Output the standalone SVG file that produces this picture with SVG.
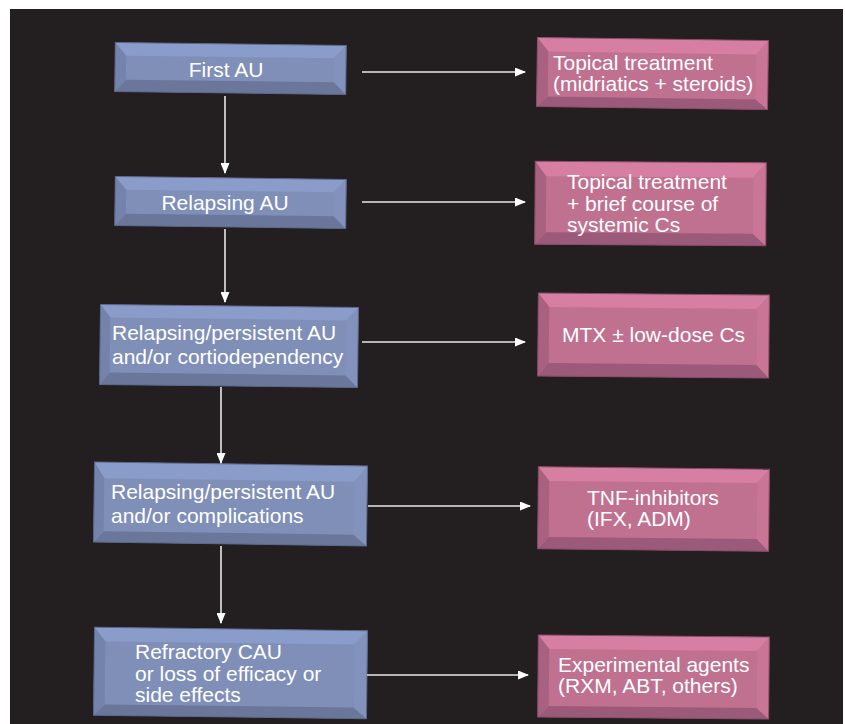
<svg xmlns="http://www.w3.org/2000/svg" width="845" height="724" viewBox="0 0 845 724">
<defs>
<style>
.bf{fill:#7f8fb7}.bt{fill:#8a9cca}.bb{fill:#6a779b}.bl{fill:#7483ab}.br{fill:#8292bd}.bo{fill:none;stroke:#5c678a;stroke-width:1}
.pf{fill:#c0718f}.pt{fill:#d67fa2}.pb{fill:#9b5a79}.pl{fill:#a8617f}.pr{fill:#c87596}.po{fill:none;stroke:#8a4c68;stroke-width:1}
.t{font-family:"Liberation Sans",Arial,sans-serif;font-size:21px;fill:#ffffff}
.c{stroke:#e8e8e8;stroke-width:1.6;fill:none;marker-end:url(#ah)}
</style>
<marker id="ah" markerUnits="userSpaceOnUse" markerWidth="11" markerHeight="9" refX="10" refY="4.5" orient="auto">
<path d="M0,0 L11,4.5 L0,9 Z" fill="#ffffff"/>
</marker>
</defs>
<rect x="0" y="0" width="845" height="724" fill="#ffffff"/>
<rect x="10" y="9" width="833" height="715" fill="#231f20"/>

<g id="n1">
<g transform="rotate(0.7 230.5 68.5)">
<rect class="bf" x="115" y="44" width="231" height="49"/>
<polygon class="bt" points="115,44 346,44 334,57 126,57"/>
<polygon class="bb" points="115,93 346,93 334,81 126,81"/>
<polygon class="bl" points="115,44 126,57 126,81 115,93"/>
<polygon class="br" points="346,44 334,57 334,81 346,93"/>
<rect class="bo" x="115" y="44" width="231" height="49"/>
</g>
<text class="t" x="226" y="77" text-anchor="middle">First AU</text>
</g>

<g id="n2">
<g transform="rotate(0.7 230.5 202.5)">
<rect class="bf" x="115" y="178" width="231" height="49"/>
<polygon class="bt" points="115,178 346,178 334,191 126,191"/>
<polygon class="bb" points="115,227 346,227 334,215 126,215"/>
<polygon class="bl" points="115,178 126,191 126,215 115,227"/>
<polygon class="br" points="346,178 334,191 334,215 346,227"/>
<rect class="bo" x="115" y="178" width="231" height="49"/>
</g>
<text class="t" x="225" y="210" text-anchor="middle">Relapsing AU</text>
</g>

<g id="n3">
<g transform="rotate(0.7 229 346)">
<rect class="bf" x="100" y="306" width="258" height="80"/>
<polygon class="bt" points="100,306 358,306 346,319 110,319"/>
<polygon class="bb" points="100,386 358,386 346,374 110,374"/>
<polygon class="bl" points="100,306 110,319 110,374 100,386"/>
<polygon class="br" points="358,306 346,319 346,374 358,386"/>
<rect class="bo" x="100" y="306" width="258" height="80"/>
</g>
<text class="t" x="112" y="340">Relapsing/persistent AU</text>
<text class="t" x="112" y="364">and/or cortiodependency</text>
</g>

<g id="n4">
<g transform="rotate(0.8 230.5 504)">
<rect class="bf" x="94" y="464" width="273" height="80"/>
<polygon class="bt" points="94,464 367,464 354,480 104,480"/>
<polygon class="bb" points="94,544 367,544 354,533 104,533"/>
<polygon class="bl" points="94,464 104,480 104,533 94,544"/>
<polygon class="br" points="367,464 354,480 354,533 367,544"/>
<rect class="bo" x="94" y="464" width="273" height="80"/>
</g>
<text class="t" x="111" y="499">Relapsing/persistent AU</text>
<text class="t" x="111" y="523">and/or complications</text>
</g>

<g id="n5">
<g transform="rotate(0.7 230.5 673)">
<rect class="bf" x="94" y="629" width="273" height="88"/>
<polygon class="bt" points="94,629 367,629 354,643 105,643"/>
<polygon class="bb" points="94,717 367,717 354,706 105,706"/>
<polygon class="bl" points="94,629 105,643 105,706 94,717"/>
<polygon class="br" points="367,629 354,643 354,706 367,717"/>
<rect class="bo" x="94" y="629" width="273" height="88"/>
</g>
<text class="t" x="135" y="659">Refractory CAU</text>
<text class="t" x="135" y="681">or loss of efficacy or</text>
<text class="t" x="135" y="702">side effects</text>
</g>

<g id="p1">
<g transform="rotate(0.8 652.5 73.5)">
<rect class="pf" x="537" y="39" width="231" height="69"/>
<polygon class="pt" points="537,39 768,39 756,53 548,53"/>
<polygon class="pb" points="537,108 768,108 756,98 548,98"/>
<polygon class="pl" points="537,39 548,53 548,98 537,108"/>
<polygon class="pr" points="768,39 756,53 756,98 768,108"/>
<rect class="po" x="537" y="39" width="231" height="69"/>
</g>
<text class="t" x="553" y="70">Topical treatment</text>
<text class="t" x="553" y="91">(midriatics + steroids)</text>
</g>

<g id="p2">
<g transform="rotate(0.4 650.5 203.5)">
<rect class="pf" x="535" y="162" width="231" height="83"/>
<polygon class="pt" points="535,162 766,162 753,177 546,177"/>
<polygon class="pb" points="535,245 766,245 753,233 546,233"/>
<polygon class="pl" points="535,162 546,177 546,233 535,245"/>
<polygon class="pr" points="766,162 753,177 753,233 766,245"/>
<rect class="po" x="535" y="162" width="231" height="83"/>
</g>
<text class="t" x="567" y="189">Topical treatment</text>
<text class="t" x="567" y="211">+ brief course of</text>
<text class="t" x="567" y="232">systemic Cs</text>
</g>

<g id="p3">
<g transform="rotate(0.5 653.5 335.5)">
<rect class="pf" x="538" y="294" width="231" height="83"/>
<polygon class="pt" points="538,294 769,294 757,308 549,308"/>
<polygon class="pb" points="538,377 769,377 757,364 549,364"/>
<polygon class="pl" points="538,294 549,308 549,364 538,377"/>
<polygon class="pr" points="769,294 757,308 757,364 769,377"/>
<rect class="po" x="538" y="294" width="231" height="83"/>
</g>
<text class="t" x="562" y="342">MTX ± low-dose Cs</text>
</g>

<g id="p4">
<g transform="rotate(0.6 653.5 509)">
<rect class="pf" x="538" y="468" width="231" height="82"/>
<polygon class="pt" points="538,468 769,468 757,482 549,482"/>
<polygon class="pb" points="538,550 769,550 757,538 549,538"/>
<polygon class="pl" points="538,468 549,482 549,538 538,550"/>
<polygon class="pr" points="769,468 757,482 757,538 769,550"/>
<rect class="po" x="538" y="468" width="231" height="82"/>
</g>
<text class="t" x="587" y="505">TNF-inhibitors</text>
<text class="t" x="587" y="526">(IFX, ADM)</text>
</g>

<g id="p5">
<g transform="rotate(0.5 653.5 677)">
<rect class="pf" x="538" y="636" width="231" height="82"/>
<polygon class="pt" points="538,636 769,636 757,650 549,650"/>
<polygon class="pb" points="538,718 769,718 757,707 549,707"/>
<polygon class="pl" points="538,636 549,650 549,707 538,718"/>
<polygon class="pr" points="769,636 757,650 757,707 769,718"/>
<rect class="po" x="538" y="636" width="231" height="82"/>
</g>
<text class="t" x="558" y="672">Experimental agents</text>
<text class="t" x="558" y="693">(RXM, ABT, others)</text>
</g>

<g id="connectors">
<line class="c" x1="225" y1="96" x2="225" y2="173"/>
<line class="c" x1="225" y1="229" x2="225" y2="302"/>
<line class="c" x1="221" y1="387" x2="221" y2="463"/>
<line class="c" x1="221" y1="546" x2="221" y2="623"/>
<line class="c" x1="362" y1="72" x2="525" y2="72"/>
<line class="c" x1="362" y1="202" x2="525" y2="202"/>
<line class="c" x1="362" y1="342" x2="525" y2="342"/>
<line class="c" x1="368" y1="506" x2="530" y2="506"/>
<line class="c" x1="367" y1="675" x2="528" y2="675"/>
</g>
</svg>
